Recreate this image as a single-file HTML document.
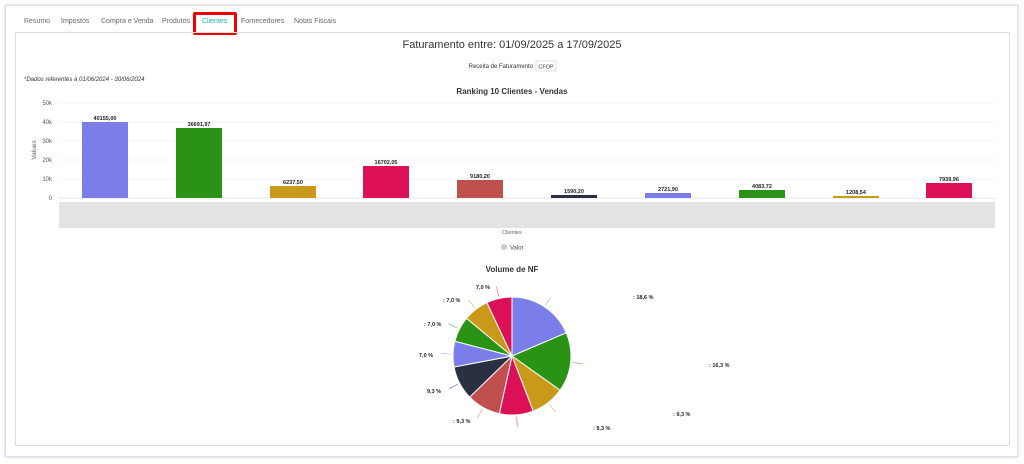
<!DOCTYPE html>
<html><head><style>
body{margin:0;width:1024px;height:464px;background:#fff;font-family:"Liberation Sans",sans-serif;overflow:hidden;position:relative}
.outer{position:absolute;left:5px;top:5px;width:1011px;height:450px;border:1px solid #dde;box-shadow:0 0 3px #ccc}
.panel{position:absolute;left:15px;top:32px;width:993px;height:412px;border:1px solid #ddd}
.tab{position:absolute;top:18px;font-size:7px;color:#666}
</style></head><body>
<div class="outer"></div>
<div class="tab" style="left:24px">Resumo</div>
<div class="tab" style="left:61px">Impostos</div>
<div class="tab" style="left:101px">Compra e Venda</div>
<div class="tab" style="left:162px">Produtos</div>
<div class="tab" style="left:202px;color:#2aa">Clientes</div>
<div style="position:absolute;left:193px;top:12px;width:44px;height:23px;border:3px solid #e00;box-sizing:border-box;border-radius:2px"></div>
<div class="tab" style="left:241px">Fornecedores</div>
<div class="tab" style="left:294px">Notas Fiscais</div>
<div class="panel"></div>
<svg width="1024" height="464" style="position:absolute;left:0;top:0" font-family="Liberation Sans, sans-serif">
<text x="512" y="48" text-anchor="middle" font-size="11" fill="#333">Faturamento entre: 01/09/2025 a 17/09/2025</text>
<text x="533" y="68" text-anchor="end" font-size="6" fill="#333">Receita de Faturamento</text>
<rect x="536" y="61" width="20" height="10" fill="#fff" stroke="#ccc" stroke-width="0.6"/>
<text x="546" y="68.5" text-anchor="middle" font-size="5.5" fill="#333">CFOP</text>
<text x="24" y="81" font-size="6" font-style="italic" fill="#333">*Dados referentes à 01/06/2024 - 30/06/2024</text>
<text x="512" y="94" text-anchor="middle" font-size="8" font-weight="bold" fill="#333">Ranking 10 Clientes - Vendas</text>
<g stroke="#eee" stroke-width="0.6">
<line x1="58" y1="103" x2="995" y2="103"/><line x1="58" y1="122" x2="995" y2="122"/><line x1="58" y1="141" x2="995" y2="141"/><line x1="58" y1="160" x2="995" y2="160"/><line x1="58" y1="179" x2="995" y2="179"/>
</g>
<line x1="58" y1="198" x2="995" y2="198" stroke="#ccc" stroke-width="0.6"/>
<g font-size="6" fill="#555" text-anchor="end">
<text x="52" y="105">50k</text><text x="52" y="124">40k</text><text x="52" y="143">30k</text><text x="52" y="162">20k</text><text x="52" y="181">10k</text><text x="52" y="200">0</text>
</g>
<text x="36" y="150" transform="rotate(-90 36 150)" text-anchor="middle" font-size="6.5" fill="#666">Values</text>
<g>
<rect x="82" y="122" width="46" height="76" fill="#7b7ee8"/>
<rect x="176" y="128" width="46" height="70" fill="#2a9215"/>
<rect x="270" y="186" width="46" height="12" fill="#c9991a"/>
<rect x="363" y="166" width="46" height="32" fill="#dc1056"/>
<rect x="457" y="180" width="46" height="18" fill="#c0504d"/>
<rect x="551" y="195" width="46" height="3" fill="#2a3042"/>
<rect x="645" y="193" width="46" height="5" fill="#7b7ee8"/>
<rect x="739" y="190" width="46" height="8" fill="#2a9215"/>
<rect x="833" y="196" width="46" height="2" fill="#c9991a"/>
<rect x="926" y="183" width="46" height="15" fill="#dc1056"/>
</g>
<g font-size="5.5" font-weight="bold" fill="#222" text-anchor="middle">
<text x="105" y="120">40155,00</text><text x="199" y="126">36691,97</text><text x="293" y="184">6237,50</text><text x="386" y="164">16702,05</text><text x="480" y="178">9180,20</text><text x="574" y="193">1590,20</text><text x="668" y="191">2721,90</text><text x="762" y="188">4083,72</text><text x="856" y="194">1208,54</text><text x="949" y="181">7939,96</text>
</g>
<rect x="59" y="202" width="936" height="26" fill="#e3e3e3"/>
<text x="512" y="234" text-anchor="middle" font-size="5.5" fill="#666">Clientes</text>
<circle cx="504" cy="247" r="3" fill="#ccc"/>
<text x="510" y="249.5" font-size="6" fill="#444">Valor</text>
<text x="512" y="272" text-anchor="middle" font-size="8" font-weight="bold" fill="#333">Volume de NF</text>
<g stroke="#fff" stroke-width="1" id="pie"></g>
<g font-size="5.5" font-weight="bold" fill="#222">
<text x="633" y="299">: 18,6 %</text><text x="709" y="367">: 16,3 %</text><text x="673" y="416">: 9,3 %</text><text x="593" y="430">: 9,3 %</text>
<text x="453" y="423">: 9,3 %</text><text x="427" y="393">9,3 %</text><text x="419" y="357">7,0 %</text><text x="424" y="326">: 7,0 %</text><text x="443" y="302">: 7,0 %</text><text x="476" y="289">7,0 %</text>
</g>
</svg>
<script>
var d=[[18.6,"#7b7ee8"],[16.3,"#2a9215"],[9.3,"#c9991a"],[9.3,"#dc1056"],[9.3,"#c0504d"],[9.3,"#2a3042"],[7,"#7b7ee8"],[7,"#2a9215"],[7,"#c9991a"],[7,"#dc1056"]];
var cx=512,cy=356,r=59,a=-Math.PI/2,t=100.1,h="";
d.forEach(function(s){var b=a+s[0]/t*2*Math.PI;
var x1=cx+r*Math.cos(a),y1=cy+r*Math.sin(a),x2=cx+r*Math.cos(b),y2=cy+r*Math.sin(b);
h+='<path d="M'+cx+','+cy+'L'+x1+','+y1+'A'+r+','+r+' 0 '+((b-a)>Math.PI?1:0)+' 1 '+x2+','+y2+'Z" fill="'+s[1]+'"/>';
var m=(a+b)/2;h+='<line x1="'+(cx+(r+2)*Math.cos(m))+'" y1="'+(cy+(r+2)*Math.sin(m))+'" x2="'+(cx+(r+12)*Math.cos(m))+'" y2="'+(cy+(r+12)*Math.sin(m))+'" stroke="'+s[1]+'" stroke-width="0.6" opacity="0.7"/>';
a=b;});
document.getElementById("pie").innerHTML=h;
</script>
</body></html>
